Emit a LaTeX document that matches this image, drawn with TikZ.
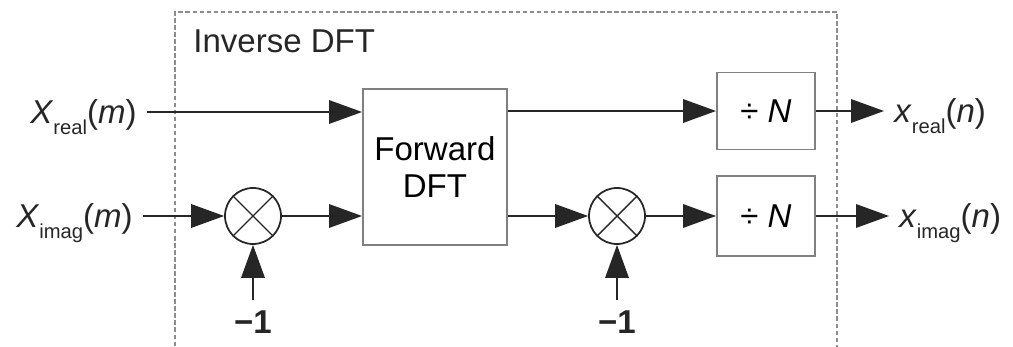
\documentclass[tikz,border=0pt]{standalone}
\usepackage{fontspec}
\setmainfont{Liberation Sans}
\usepackage{xcolor}
\usetikzlibrary{positioning,arrows.meta}

\newcommand{\sgsub}[1]{\raisebox{-0.32em}{\fontsize{11.5}{12}\selectfont #1}}

\begin{document}
\begin{tikzpicture}[x=0.2mm,y=-0.2mm,
 blk/.style={draw=black!50,line width=1.1pt,fill=white,inner sep=0pt,align=center,
   font=\fontsize{18.8}{21.5}\selectfont},
 mul/.style={circle,draw=black!85,line width=1pt,minimum size=11.2mm,inner sep=0pt,
   path picture={\draw[line width=0.8pt,black!85]
     (path picture bounding box.north west)--(path picture bounding box.south east)
     (path picture bounding box.north east)--(path picture bounding box.south west);}},
 sig/.style={-{Triangle[length=6.6mm,width=4.7mm]},line width=1pt,black!85},
 lab/.style={font=\fontsize{18.8}{22}\selectfont,text=black!85,inner sep=2mm,
   text height=13.5pt,text depth=0pt},
 frame/.style={draw=black!45,line width=0.7pt,dash pattern=on 2.5pt off 1.5pt}
]
\useasboundingbox (0,0) rectangle (1013,347);
\draw[frame] (175,360) |- (837,12) -- (837,360);
\node[lab,anchor=west] (title) at (183,41) {Inverse DFT};

\node[lab,anchor=east] (xre) at (147,112) {\textit{X}\sgsub{real}(\textit{m})};
\node[lab,anchor=east] (xim) at (143,216) {\textit{X}\sgsub{imag}(\textit{m})};

\node[blk,minimum width=28.8mm,minimum height=31.2mm] (fwd) at (435,167) {Forward\\DFT};
\node[mul] (mul1) at (253,216) {};
\node[mul] (mul2) at (617,216) {};
\node[blk,minimum width=19.6mm,minimum height=15.4mm] (divre) at (766,111) {÷ \textit{N}};
\node[blk,minimum width=19.6mm,minimum height=16mm] (divim) at (766,216) {÷ \textit{N}};

\node[lab,font=\fontsize{18.8}{22}\selectfont\bfseries] (neg1) at (253,322) {−1};
\node[lab,font=\fontsize{18.8}{22}\selectfont\bfseries] (neg2) at (617,322) {−1};

\node[lab,anchor=west] (yre) at (884,111) {\textit{x}\sgsub{real}(\textit{n})};
\node[lab,anchor=west] (yim) at (889,216) {\textit{x}\sgsub{imag}(\textit{n})};

\draw[sig] (xre) -- (xre -| fwd.west);
\draw[sig] (xim) -- (mul1);
\draw[sig] (mul1) -- (mul1 -| fwd.west);
\draw[sig] (neg1) -- (mul1);
\draw[sig] (fwd.east |- divre) -- (divre);
\draw[sig] (fwd.east |- mul2) -- (mul2);
\draw[sig] (neg2) -- (mul2);
\draw[sig] (mul2) -- (divim);
\draw[sig] (divre) -- (yre);
\draw[sig] (divim) -- (yim);
\end{tikzpicture}
\end{document}
